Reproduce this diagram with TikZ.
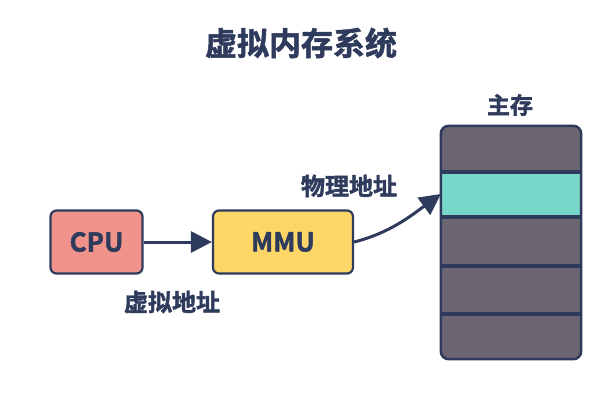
\documentclass[tikz,border=0pt]{standalone}
\usepackage{fontspec}
\newfontfamily\cjk{Noto Sans CJK SC}[BoldFont=* Bold, BoldFeatures={FakeBold=1.6}]
\usetikzlibrary{arrows.meta}
\definecolor{navy}{HTML}{2F3B5C}
\definecolor{salmon}{HTML}{F0938A}
\definecolor{mmuyellow}{HTML}{FDD668}
\definecolor{memgray}{HTML}{6B6571}
\definecolor{teal}{HTML}{77D7CA}
\tikzset{
  box/.style={draw=navy, line width=2.2pt, rounded corners=6pt, minimum width=92pt, minimum height=63pt, inner sep=0pt, font=\cjk\bfseries\fontsize{26}{28}\selectfont, text=navy},
  lbl/.style={font=\cjk\bfseries\fontsize{24}{26}\selectfont, text=navy, inner sep=0pt},
  conn/.style={draw=navy, line width=3pt, -{Triangle[length=21pt, width=21pt]}},
  sep/.style={draw=navy, line width=4.5pt}
}
\begin{document}
\begin{tikzpicture}[x=1pt, y=-1pt]
\useasboundingbox[fill=white] (0,0) rectangle (600,400);
\node[lbl, font=\cjk\bfseries\fontsize{32}{34}\selectfont] (title) at (301,43) {虚拟内存系统};
\node[box, fill=salmon] (cpu) at (96.5,242) {CPU};
\node[box, fill=mmuyellow, minimum width=140pt] (mmu) at (283,242) {MMU};
\node[lbl] (va) at (172,302) {虚拟地址};
\node[lbl] (pa) at (349,186) {物理地址};
\node[lbl, font=\cjk\bfseries\fontsize{23}{25}\selectfont] (main) at (510,105) {主存};
\node[draw=none, fill=memgray, rounded corners=8pt, minimum width=140pt, minimum height=233pt, inner sep=0pt] (mem) at (511,242.5) {};
\fill[teal] (mem.west |- 0,172) rectangle (mem.east |- 0,217);
\coordinate (s1l) at (mem.west |- 0,172); \coordinate (s1r) at (mem.east |- 0,172);
\coordinate (s2l) at (mem.west |- 0,217); \coordinate (s2r) at (mem.east |- 0,217);
\coordinate (s3l) at (mem.west |- 0,266); \coordinate (s3r) at (mem.east |- 0,266);
\coordinate (s4l) at (mem.west |- 0,314); \coordinate (s4r) at (mem.east |- 0,314);
\draw[sep] (s1l) -- (s1r);
\draw[sep] (s2l) -- (s2r);
\draw[sep] (s3l) -- (s3r);
\draw[sep] (s4l) -- (s4r);
\draw[navy, line width=2.5pt, rounded corners=8pt] (mem.north west) rectangle (mem.south east);
\draw[conn] (cpu.east) -- (mmu.west);
\coordinate (tip) at (mem.west |- 0,194);
\draw[conn] (mmu.east) .. controls (390,233) and (412,215) .. (tip);
\end{tikzpicture}
\end{document}
